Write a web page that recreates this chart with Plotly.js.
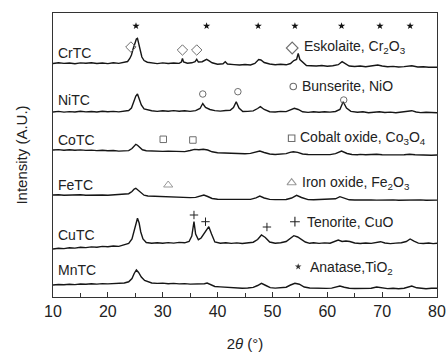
<!DOCTYPE html>
<html>
<head>
<meta charset="utf-8">
<script src="https://cdn.plot.ly/plotly-3.0.1.min.js"></script>
<style>html,body{margin:0;padding:0;background:#fff;}#chart{width:448px;height:356px;}</style>
</head>
<body>
<div id="chart"></div>
<script>
// ---- data (intensity, arbitrary units, stacked as in the figure) ----
const sampleNames = ["CrTC", "NiTC", "CoTC", "FeTC", "CuTC", "MnTC"];
const labelY = [244, 197, 157, 112, 62, 27];

const CrTC_x = [10,11,12,13,14,15,16,17,18,19,20,21,22,23,23.6,24.0,24.3,24.6,24.9,25.2,25.4,25.6,25.9,26.2,26.6,27.2,28,29,30,31,32,33,33.4,33.6,33.8,34.5,35.3,35.9,36.2,36.5,37.2,37.7,38.0,38.4,39,40,41,41.4,41.8,43,44,45,46,46.8,47.5,47.9,48.5,49.5,50.5,51.5,52.5,53.3,53.9,54.4,54.7,55.0,55.4,56.2,57,58,59,60,61,62,62.7,63.3,64,65,66,67,68,69.2,70,71,72,73,74,75.4,76.5,77.5,78.5,80];
const CrTC_y = [233.5,234.2,233.6,234.0,233.3,234.1,233.7,234.3,233.5,234.0,233.4,234.2,233.6,234.4,235.5,238.5,242,248,254,258,258.7,255,247,240,236.5,234.8,234.0,233.4,234.1,233.5,234.0,233.6,235,238.5,235,233.8,234.2,235.3,237.7,235,235.3,237.2,237.6,236.3,234.2,232.8,233.2,235.2,233.0,232.4,232.0,232.5,232.0,233.5,237.5,237.0,234.5,233.0,232.3,232.8,232.2,233.5,236.5,237.5,243.5,237.5,235.5,231.5,231.3,231.0,231.5,230.8,231.3,232.3,235.3,233.5,231.0,230.5,231.0,230.3,230.8,232.0,231.0,230.2,230.6,230.0,230.4,231.3,230.0,230.3,229.8,229.8];

const NiTC_x = [10,11,12,13,14,15,16,17,18,19,20,21,22,23,23.8,24.3,24.8,25.1,25.4,25.7,26.1,26.6,27.3,28,29,30,31,32,33,34,35,36,36.8,37.3,37.8,38.6,39.5,40.5,41.5,42.3,42.9,43.4,43.9,44.6,45.5,46.5,47.3,47.8,48.5,49.5,50.5,51.5,52.5,53.3,54.0,54.7,55.5,56.5,57.5,58.5,59.5,60.5,61.5,62.3,62.9,63.5,64.3,65.5,66.5,67.5,68.5,69.5,70.5,71.5,72.5,73.5,74.6,75.4,76.2,77,78,79,80];
const NiTC_y = [185.0,185.6,184.9,185.4,185.0,185.7,185.1,185.5,185.0,185.8,185.2,185.6,185.1,185.7,186.5,189,196,201,203,199,192,188,186.8,186.2,185.6,186.3,185.8,186.4,185.7,186.3,185.6,186.4,188.5,193.5,189.5,187.5,186.4,185.9,186.5,186.8,189.5,195.3,189,185.5,185.6,186.1,188.5,190.3,187.5,185.3,185.0,185.6,185.4,186.8,188.7,187.5,185.2,184.6,185.2,184.8,185.3,184.9,185.5,187.5,195.3,189,185.6,184.8,185.2,184.3,184.8,185.3,184.5,184.9,184.2,184.7,185.2,186.3,185.0,184.4,184.8,184.2,184.3];

const CoTC_x = [10,11,12,13,14,15,16,17,18,19,20,21,22,23,23.8,24.4,24.8,25.1,25.4,25.8,26.3,27,28,29,30,31,32,33,34,35,35.8,36.6,37.4,38.2,39,40,41,42,43,44,45,46,47,47.7,48.5,49.5,50.5,51.5,52.5,53.2,53.8,54.6,55.5,56.5,57.5,58.5,59.5,60.5,61.5,62.6,63.6,64.5,65.5,66,67,68,69,70,71,72,73,74,75,76,77,78,79,80];
const CoTC_y = [147.0,147.4,146.8,147.2,146.7,147.1,146.6,146.9,146.4,146.8,146.2,146.5,145.9,146.1,146.4,148.5,151.5,152.7,151.8,149.5,147.2,146.2,145.8,146.1,145.6,145.9,145.5,145.8,145.4,146.5,147.6,147.2,147.8,147.0,145.2,144.3,144.0,143.6,143.4,143.0,143.3,143.6,145.0,146.0,144.5,143.0,142.5,142.8,143.4,144.6,145.3,144.6,143.0,142.5,142.6,142.3,142.7,142.4,143.4,146.0,143.5,142.5,142.3,142.6,142.2,142.5,142.8,142.3,142.0,142.4,142.1,142.3,142.8,142.2,141.9,142.2,141.8,142.0];

const FeTC_x = [10,11,12,13,14,15,16,17,18,19,20,21,22,23,23.8,24.4,24.8,25.1,25.5,26,26.6,27.3,28,29,30,31,32,33,34,35,36,36.8,37.5,38.2,39,40,41,42,43,44,45,46,47,47.7,48.5,49.5,50.5,51.5,52.5,53.5,54.4,55.3,56.5,57.5,58.5,59.5,60.5,61.5,62.3,63.2,64,65,66,67,68,69,70,71,72,73,74,75,76,77,78,79,80];
const FeTC_y = [102.0,102.3,101.8,102.2,101.9,102.3,101.8,102.1,101.7,102.0,101.8,102.2,101.9,102.3,103.3,105.5,108,108.7,107,104,101.8,101.0,100.8,100.5,100.3,100.0,99.9,99.6,99.7,99.4,99.6,100.8,102.0,100.5,98.5,97.7,97.8,97.5,97.7,97.6,97.8,97.6,99.2,101.0,99.0,97.6,97.4,97.6,97.5,99.0,101.7,99.5,97.4,97.3,97.5,97.2,97.4,98.2,100.3,98.5,97.2,97.0,97.2,96.9,97.1,96.9,97.2,96.9,97.1,96.8,97.0,97.3,96.9,97.1,96.8,97.0,96.9];

const CuTC_x = [10,11,12,13,14,15,16,17,18,19,20,21,22,23,23.8,24.4,24.8,25.1,25.4,25.7,26.0,26.4,27,28,29,30,31,32,33,34,34.8,35.3,35.7,36.0,36.5,37.0,37.5,37.9,38.4,38.9,39.5,40.5,41.5,42.5,43.5,44.5,45.5,46.5,47.3,48.0,48.7,49.5,50.5,51.5,52.5,53.3,53.9,54.6,55.3,56.0,56.8,57.5,58.5,59.5,60.5,61.3,62.0,62.7,63.4,64.1,65,66,67,68,69,69.7,70.5,71.5,72.5,73.5,74.4,75.1,75.8,76.6,77.5,78.5,79.3,80];
const CuTC_y = [48.0,48.8,48.4,49.3,48.9,49.7,49.4,50.1,49.8,50.6,50.2,51.0,50.6,51.8,53.5,58,67,75,78.7,74,65,58,54.5,53.8,54.3,53.7,54.4,53.9,54.6,54.2,55.5,61,75.3,63,57.3,59,63.5,67,70.3,63,55,53.8,54.2,53.6,54.1,53.5,54.0,54.8,57.5,62,59.5,55,53.7,54.2,55.5,59,61.3,60,57.5,55,53.7,54.2,53.6,54.1,53.8,55.2,57,55.5,56,55.5,54.0,53.5,54.0,53.6,54.4,55.3,54.0,53.4,53.9,54.2,55.5,58.0,55.8,53.9,53.5,54.0,53.4,53.7];

const MnTC_x = [10,11,12,13,14,15,16,17,18,19,20,21,22,23,23.8,24.4,24.8,25.2,25.6,26.1,26.7,27.4,28,29,30,31,32,33,34,35,36,37,37.6,38.1,38.7,39.5,40.5,41.5,42.5,43.5,44.5,45.5,46.5,47.3,48.0,48.8,49.6,50.5,51.5,52.5,53.3,54.1,54.9,55.8,56.8,57.8,58.8,59.8,60.8,61.6,62.3,63.1,64,65,66,67,68,69,70,71,72,73,74,75.4,76.3,77,78,79,80];
const MnTC_y = [12.0,12.5,12.2,12.8,12.4,13.0,12.7,13.2,12.9,13.4,13.1,13.6,13.4,14.0,15.2,18.5,23.5,27,24.5,20,16.5,15.3,14.0,13.6,13.9,13.3,13.6,13.1,13.4,12.9,13.1,12.8,13.2,13.9,12.3,10.5,10.1,9.6,9.2,8.9,8.7,9.0,9.6,11.5,13.7,11.5,9.4,8.9,9.1,9.8,12,13.7,12.8,10,9.0,8.7,9.0,8.6,8.9,9.8,11,9.8,8.7,8.5,8.8,8.4,8.7,10.0,8.9,8.4,8.7,8.3,8.8,11,9.2,8.6,8.3,8.7,8.7];

// phase reflection markers (2theta, height)
const anatase_x = [25.13, 38.0, 47.4, 54.1, 62.6, 69.6, 75.1];
const anatase_y = [271, 271, 271, 271, 271, 271, 271];
const eskolaite_x = [24.2, 33.6, 36.2];
const eskolaite_y = [250, 247, 247];
const bunserite_x = [37.3, 43.7, 63.0];
const bunserite_y = [203, 205.3, 197];
const cobalt_x = [30.1, 35.5];
const cobalt_y = [157.7, 157];
const iron_x = [31.0];
const iron_y = [112];
const tenorite_x = [35.7, 37.8, 49.0];
const tenorite_y = [82, 75.3, 70];

// legend entries
const legendText = ["Eskolaite, Cr<sub>2</sub>O<sub>3</sub>", "Bunserite, NiO", "Cobalt oxide, Co<sub>3</sub>O<sub>4</sub>", "Iron oxide, Fe<sub>2</sub>O<sub>3</sub>", "Tenorite, CuO", "Anatase,TiO<sub>2</sub>"];
const legendSymX = [53.6, 53.8, 53.5, 53.5, 54.1, 54.7];
const legendSymY = [249, 210.5, 158.7, 114.3, 75.3, 30.3];
const legendTextX = [55.3, 55.0, 54.7, 55.0, 55.9, 56.5];
const legendTextY = [250.5, 211, 159, 114.3, 75.3, 29.3];

// ---- build ----
const series = [[CrTC_x, CrTC_y],[NiTC_x, NiTC_y],[CoTC_x, CoTC_y],[FeTC_x, FeTC_y],[CuTC_x, CuTC_y],[MnTC_x, MnTC_y]];
const traces = series.map((s, i) => ({
  x: s[0], y: s[1], type: 'scatter', mode: 'lines', name: sampleNames[i],
  line: {color: '#161616', width: 1.4}, hoverinfo: 'skip'
}));

const gray = '#6e6e6e';
function mk(x, y, symbol, size, color, lw) {
  return {x: x, y: y, type: 'scatter', mode: 'markers', hoverinfo: 'skip',
    marker: {symbol: symbol, size: size, color: color, line: {color: color, width: lw}}};
}
traces.push(mk(anatase_x, anatase_y, 'star', 5.5, '#111', 0));
traces.push(mk(eskolaite_x, eskolaite_y, 'diamond-open', 8, gray, 1));
traces.push(mk(bunserite_x, bunserite_y, 'circle-open', 6.5, gray, 1));
traces.push(mk(cobalt_x, cobalt_y, 'square-open', 6.5, gray, 1));
traces.push(mk(iron_x, iron_y, 'triangle-up-open', 8, '#999', 1));
traces.push(mk(tenorite_x, tenorite_y, 'cross-thin-open', 6, '#222', 1));
// legend symbols
const legSyms = ['diamond-open','circle-open','square-open','triangle-up-open','cross-thin-open','star'];
const legSizes = [9, 6.5, 6.5, 8, 7, 5];
const legCols = [gray, gray, gray, '#999', '#222', '#333'];
legSyms.forEach((s, i) => traces.push(mk([legendSymX[i]], [legendSymY[i]], s, legSizes[i], legCols[i], s==='star'?0:1.1)));

const annotations = [];
sampleNames.forEach((n, i) => annotations.push({
  x: 10.55, y: labelY[i], xref: 'x', yref: 'y', text: n, showarrow: false,
  xanchor: 'left', yanchor: 'middle', font: {family: 'Liberation Sans, Arial, sans-serif', size: 14, color: '#222'}
}));
legendText.forEach((t, i) => annotations.push({
  x: legendTextX[i], y: legendTextY[i], xref: 'x', yref: 'y', text: t, showarrow: false,
  xanchor: 'left', yanchor: 'middle', font: {family: 'Liberation Sans, Arial, sans-serif', size: 14, color: '#222'}
}));

const layout = {
  width: 448, height: 356,
  margin: {l: 53, r: 11, t: 13, b: 59},
  paper_bgcolor: '#fff', plot_bgcolor: '#fff',
  showlegend: false,
  font: {family: 'Liberation Sans, Arial, sans-serif', color: '#222'},
  xaxis: {
    range: [10, 80], tickvals: [10,20,30,40,50,60,70,80],
    ticks: 'inside', ticklen: 5, tickwidth: 1, tickcolor: '#333',
    minor: {dtick: 5, tick0: 10, ticks: 'inside', ticklen: 4, tickcolor: '#333'},
    showline: true, linecolor: '#333', linewidth: 1.2, mirror: true,
    showgrid: false, zeroline: false,
    tickfont: {size: 16, color: '#222'},
    title: {text: '2<i>θ</i> (°)', font: {size: 15, color: '#222'}, standoff: 19}
  },
  yaxis: {
    range: [0, 284], showticklabels: false, ticks: '',
    showline: true, linecolor: '#333', linewidth: 1.2, mirror: true,
    showgrid: false, zeroline: false,
    title: {text: 'Intensity (A.U.)', font: {size: 15, color: '#222'}, standoff: 20}
  },
  annotations: annotations
};

Plotly.newPlot('chart', traces, layout, {staticPlot: true, displayModeBar: false});
</script>
</body>
</html>
